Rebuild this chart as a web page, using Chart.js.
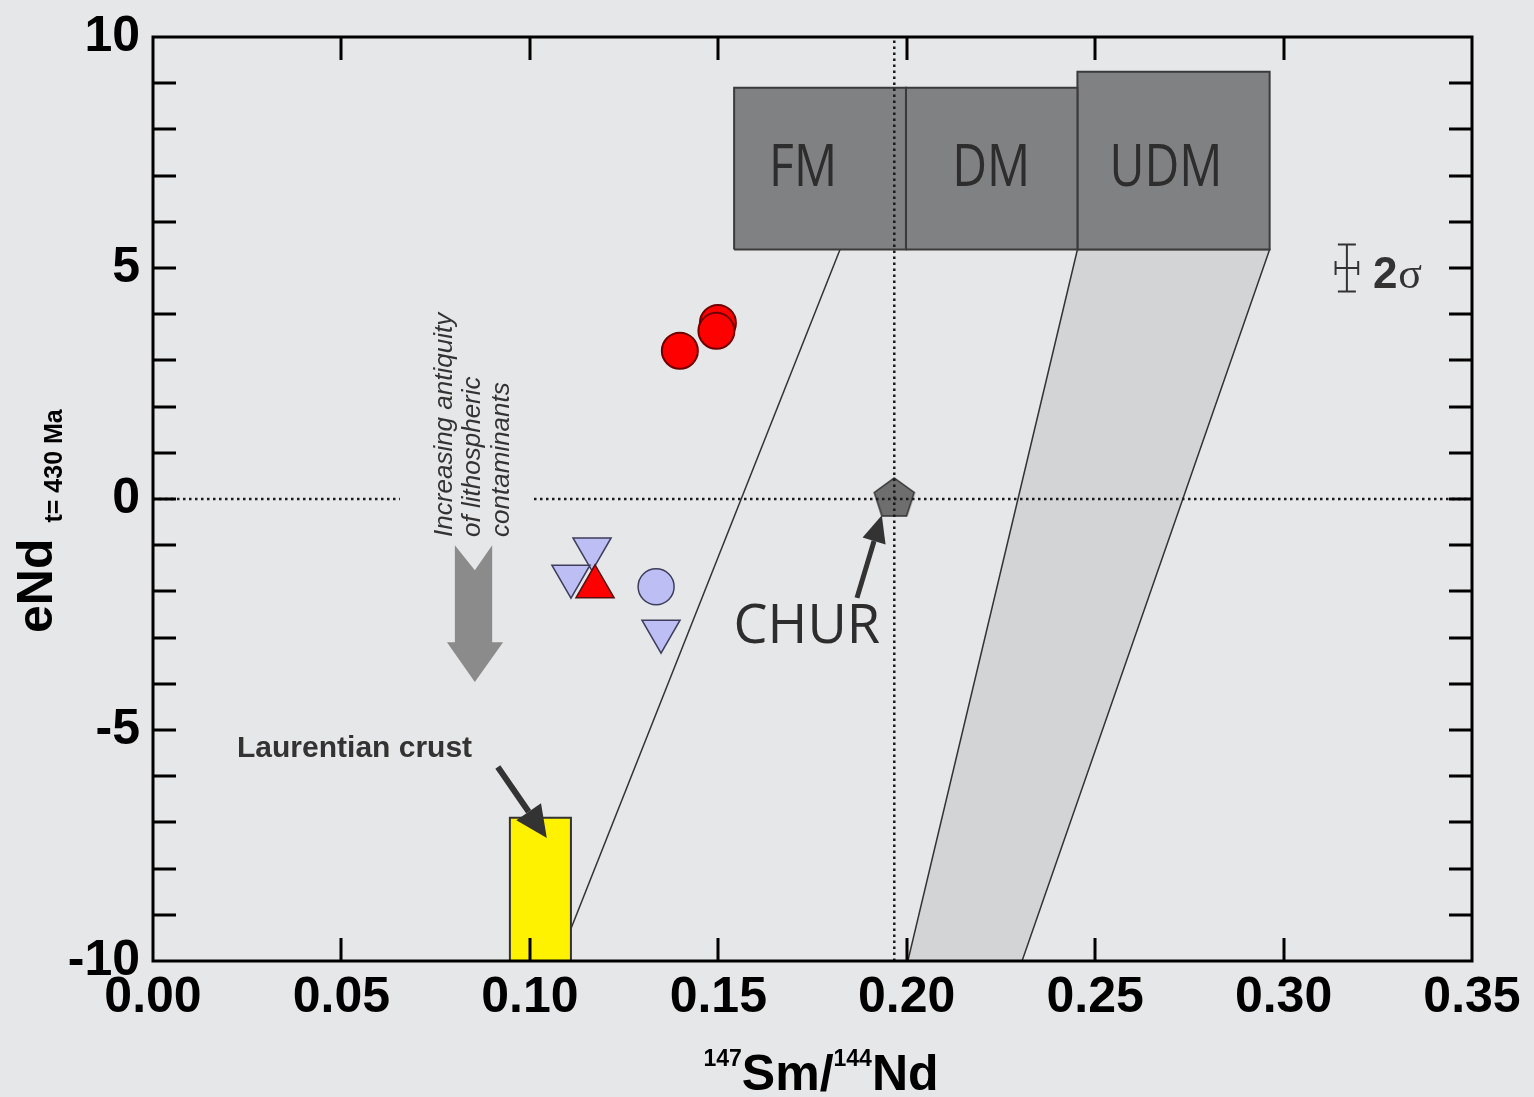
<!DOCTYPE html>
<html>
<head>
<meta charset="utf-8">
<script src="https://cdn.jsdelivr.net/npm/chart.js@4.4.1/dist/chart.umd.min.js"></script>
<style>
  html, body { margin: 0; padding: 0; background: #e6e7e8; }
  canvas { display: block; }
</style>
</head>
<body>
<canvas id="c" width="1534" height="1097"></canvas>
<script>
// ---- axis ticks ----
const xTickLabels = ['0.00', '0.05', '0.10', '0.15', '0.20', '0.25', '0.30', '0.35'];
const yTickLabels = ['-10', '-5', '0', '5', '10'];

// ---- samples: 147Sm/144Nd vs eNd(t = 430 Ma) ----
const redCircleX = [0.1398, 0.1499, 0.1495];
const redCircleY = [3.21, 3.81, 3.64];
const redTriangleX = [0.1173];
const redTriangleY = [-1.90];
const blueTriangleX = [0.1165, 0.1109, 0.1348];
const blueTriangleY = [-1.08, -1.67, -2.86];
const blueCircleX = [0.1335];
const blueCircleY = [-1.90];

// ---- reference reservoirs ----
const churX = [0.1967];
const churY = [0];
const fmBoxX = [0.1542, 0.1998, 0.1998, 0.1542];
const fmBoxY = [5.4, 5.4, 8.9, 8.9];
const dmBoxX = [0.1998, 0.2453, 0.2453, 0.1998];
const dmBoxY = [5.4, 5.4, 8.9, 8.9];
const udmBoxX = [0.2453, 0.2963, 0.2963, 0.2453];
const udmBoxY = [5.4, 5.4, 9.25, 9.25];
const mantleBandX = [0.2453, 0.2963, 0.2306, 0.2003];
const mantleBandY = [5.4, 5.4, -10, -10];
const fmLineX = [0.1823, 0.1075];
const fmLineY = [5.4, -10];
const crustBoxX = [0.0947, 0.1109, 0.1109, 0.0947];
const crustBoxY = [-10, -10, -6.9, -6.9];
const zeroLineLeftX = [0, 0.0655];
const zeroLineRightX = [0.1011, 0.35];
const churLineY = [-10, 10];

const pts = (xs, ys) => xs.map((x, i) => ({ x, y: ys[i] }));

function pentagon(r, fill, stroke) {
  const c = document.createElement('canvas');
  const s = Math.ceil(2 * r + 6);
  c.width = c.height = s;
  const g = c.getContext('2d');
  g.beginPath();
  for (let k = 0; k < 5; k++) {
    const a = -Math.PI / 2 + k * 2 * Math.PI / 5;
    const px = s / 2 + r * Math.cos(a), py = s / 2 + r * Math.sin(a);
    if (k) g.lineTo(px, py); else g.moveTo(px, py);
  }
  g.closePath();
  g.fillStyle = fill; g.fill();
  g.lineWidth = 1.5; g.strokeStyle = stroke; g.stroke();
  return c;
}

const polygon = (xs, ys, fill, stroke, width, order) => ({
  data: pts(xs, ys).concat([{ x: xs[0], y: ys[0] }]),
  showLine: true, fill: 'shape', backgroundColor: fill,
  borderColor: stroke, borderWidth: width, pointRadius: 0, tension: 0, order
});
const segment = (xs, ys, color, width, dash, order) => ({
  data: pts(xs, ys), showLine: true, fill: false,
  borderColor: color, borderWidth: width, borderDash: dash,
  pointRadius: 0, tension: 0, order
});

const FONT = "'Liberation Sans', Arial, sans-serif";
const toX = (chart, v) => chart.scales.x.getPixelForValue(v);
const toY = (chart, v) => chart.scales.y.getPixelForValue(v);

function arrow(ctx, x1, y1, x2, y2, headLen, headHalf, width, color) {
  const ang = Math.atan2(y2 - y1, x2 - x1);
  const bx = x2 - headLen * Math.cos(ang), by = y2 - headLen * Math.sin(ang);
  ctx.strokeStyle = color; ctx.fillStyle = color; ctx.lineWidth = width;
  ctx.beginPath(); ctx.moveTo(x1, y1); ctx.lineTo(bx, by); ctx.stroke();
  ctx.beginPath();
  ctx.moveTo(x2, y2);
  ctx.lineTo(bx + headHalf * Math.sin(ang), by - headHalf * Math.cos(ang));
  ctx.lineTo(bx - headHalf * Math.sin(ang), by + headHalf * Math.cos(ang));
  ctx.closePath(); ctx.fill();
}

// centred label, stretched vertically
function tallText(ctx, text, x, y, sy) {
  ctx.save();
  ctx.translate(x, y);
  ctx.scale(1, sy);
  ctx.fillText(text, 0, 0);
  ctx.restore();
}

const background = {
  id: 'background',
  beforeDraw(chart) {
    const { ctx, width, height } = chart;
    ctx.save(); ctx.fillStyle = '#e6e7e8'; ctx.fillRect(0, 0, width, height); ctx.restore();
  }
};

const overlay = {
  id: 'overlay',
  afterDatasetsDraw(chart) {
    const { ctx, chartArea: a } = chart;
    const X = v => toX(chart, v), Y = v => toY(chart, v);
    ctx.save();

    // frame and inward ticks
    ctx.strokeStyle = '#000'; ctx.lineWidth = 3; ctx.lineCap = 'butt';
    ctx.strokeRect(a.left, a.top, a.right - a.left, a.bottom - a.top);
    const TL = 23;
    ctx.beginPath();
    for (let i = 1; i < xTickLabels.length - 1; i++) {
      const px = Math.round(X(parseFloat(xTickLabels[i])));
      ctx.moveTo(px, a.bottom); ctx.lineTo(px, a.bottom - TL);
      ctx.moveTo(px, a.top); ctx.lineTo(px, a.top + TL);
    }
    for (let v = -9; v <= 9; v++) {
      const py = Math.round(Y(v));
      ctx.moveTo(a.left, py); ctx.lineTo(a.left + TL, py);
      ctx.moveTo(a.right, py); ctx.lineTo(a.right - TL, py);
    }
    ctx.stroke();

    // reservoir labels
    ctx.fillStyle = '#2d2d2d';
    ctx.textAlign = 'center'; ctx.textBaseline = 'middle';
    ctx.font = "48px 'Open Sans', sans-serif";
    tallText(ctx, 'FM', X(0.1725), Y(7.12), 1.2);
    tallText(ctx, 'DM', X(0.2224), Y(7.12), 1.2);
    tallText(ctx, 'UDM', X(0.2688), Y(7.12), 1.2);
    ctx.font = "54px 'Open Sans', sans-serif";
    ctx.fillText('CHUR', X(0.1735), Y(-2.79));

    // Laurentian crust label and pointer
    ctx.textAlign = 'left'; ctx.textBaseline = 'alphabetic';
    ctx.font = 'bold 30px ' + FONT;
    ctx.fillStyle = '#333';
    ctx.fillText('Laurentian crust', X(0.0223), Y(-5.58));
    arrow(ctx, X(0.0915), Y(-5.80), X(0.1045), Y(-7.34), 32, 15, 6, '#333');

    // CHUR pointer
    arrow(ctx, X(0.1868), Y(-2.14), X(0.1934), Y(-0.35), 27, 12, 5, '#333');

    // contamination trend note
    ctx.save();
    ctx.translate(X(0.0793), Y(-0.82));
    ctx.rotate(-Math.PI / 2);
    ctx.font = 'italic 26px ' + FONT;
    ctx.fillStyle = '#333';
    ctx.fillText('Increasing antiquity', 0, 0);
    ctx.fillText('of lithospheric', 0, 28.5);
    ctx.fillText('contaminants', 0, 57);
    ctx.restore();

    // wide trend arrow
    ctx.fillStyle = '#8b8b8b';
    ctx.beginPath();
    ctx.moveTo(X(0.0801), Y(-1.00));
    ctx.lineTo(X(0.0854), Y(-1.54));
    ctx.lineTo(X(0.0900), Y(-1.00));
    ctx.lineTo(X(0.0900), Y(-3.10));
    ctx.lineTo(X(0.0929), Y(-3.10));
    ctx.lineTo(X(0.0854), Y(-3.96));
    ctx.lineTo(X(0.0780), Y(-3.10));
    ctx.lineTo(X(0.0801), Y(-3.10));
    ctx.closePath(); ctx.fill();

    // 2 sigma error cross
    const ex = X(0.3168), ey = Y(5.0);
    const hy = Y(5.0) - Y(5.51), hx = X(0.3198) - X(0.3168);
    ctx.strokeStyle = '#333'; ctx.lineWidth = 2;
    ctx.beginPath();
    ctx.moveTo(ex, ey - hy); ctx.lineTo(ex, ey + hy);
    ctx.moveTo(ex - 9, ey - hy); ctx.lineTo(ex + 9, ey - hy);
    ctx.moveTo(ex - 9, ey + hy); ctx.lineTo(ex + 9, ey + hy);
    ctx.moveTo(ex - hx, ey); ctx.lineTo(ex + hx, ey);
    ctx.moveTo(ex - hx, ey - 7); ctx.lineTo(ex - hx, ey + 7);
    ctx.moveTo(ex + hx, ey - 7); ctx.lineTo(ex + hx, ey + 7);
    ctx.stroke();
    ctx.fillStyle = '#333';
    ctx.font = 'bold 44px ' + FONT;
    ctx.fillText('2', X(0.3237), Y(4.57));
    const w2 = ctx.measureText('2').width;
    ctx.font = "44px 'Liberation Serif', serif";
    ctx.fillText('σ', X(0.3237) + w2 + 1, Y(4.57));

    ctx.restore();
  },
  afterDraw(chart) {
    const { ctx } = chart;
    ctx.save();
    ctx.fillStyle = '#000';
    ctx.textBaseline = 'alphabetic'; ctx.textAlign = 'left';

    // x-axis title: 147Sm/144Nd
    const parts = [['147', 23, -24], ['Sm/', 50, 0], ['144', 23, -24], ['Nd', 50, 0]];
    let total = 0;
    parts.forEach(p => { ctx.font = 'bold ' + p[1] + 'px ' + FONT; total += ctx.measureText(p[0]).width; });
    let cx = 821 - total / 2;
    parts.forEach(p => {
      ctx.font = 'bold ' + p[1] + 'px ' + FONT;
      ctx.fillText(p[0], cx, 1090 + p[2]);
      cx += ctx.measureText(p[0]).width;
    });

    // y-axis title: eNd with t = 430 Ma subscript
    ctx.translate(52, 633);
    ctx.rotate(-Math.PI / 2);
    ctx.font = 'bold 50px ' + FONT;
    ctx.fillText('eNd', 0, 0);
    const w = ctx.measureText('eNd').width;
    ctx.font = 'bold 25px ' + FONT;
    ctx.fillText('t= 430 Ma', w + 16, 10);
    ctx.restore();
  }
};

const tickFont = { family: FONT, size: 50, weight: 'bold' };

new Chart(document.getElementById('c'), {
  type: 'scatter',
  data: {
    datasets: [
      // markers (lowest order is drawn on top)
      { data: pts(redCircleX, redCircleY), pointStyle: 'circle', pointRadius: 18,
        backgroundColor: '#ff0000', borderColor: '#6e0000', borderWidth: 2, order: 1 },
      { data: pts(redTriangleX, redTriangleY), pointStyle: 'triangle', pointRadius: 22,
        backgroundColor: '#ff0000', borderColor: '#5a1010', borderWidth: 1.5, order: 2 },
      { data: pts(blueTriangleX, blueTriangleY), pointStyle: 'triangle', rotation: 180, pointRadius: 22,
        backgroundColor: '#bdbef3', borderColor: '#3e3e5c', borderWidth: 1.5, order: 3 },
      { data: pts(blueCircleX, blueCircleY), pointStyle: 'circle', pointRadius: 18,
        backgroundColor: '#bdbef3', borderColor: '#3e3e5c', borderWidth: 1.5, order: 3 },
      // reference lines
      segment(zeroLineLeftX, [0, 0], '#1a1a1a', 2.5, [2.5, 3.5], 4),
      segment(zeroLineRightX, [0, 0], '#1a1a1a', 2.5, [2.5, 3.5], 4),
      segment([churX[0], churX[0]], churLineY, '#1a1a1a', 2.5, [2.5, 3.5], 4),
      // CHUR
      { data: pts(churX, churY), pointStyle: pentagon(21, '#6e6e6e', '#333'), pointRadius: 21, order: 5 },
      // Laurentian crust
      polygon(crustBoxX, crustBoxY, '#fff200', '#333', 2, 6),
      // mantle reservoirs
      polygon(fmBoxX, fmBoxY, '#808183', '#3b3b3b', 2, 7),
      polygon(dmBoxX, dmBoxY, '#808183', '#3b3b3b', 2, 7),
      polygon(udmBoxX, udmBoxY, '#808183', '#3b3b3b', 2, 7),
      segment(fmLineX, fmLineY, '#333', 1.5, [], 8),
      polygon(mantleBandX, mantleBandY, '#d3d4d6', '#333', 1.5, 9)
    ]
  },
  options: {
    responsive: false,
    animation: false,
    events: [],
    layout: { padding: { left: 0, right: 62, top: 37, bottom: 0 } },
    plugins: { legend: { display: false }, tooltip: { enabled: false } },
    scales: {
      x: {
        type: 'linear', position: 'bottom', min: 0, max: 0.35,
        grid: { display: false, drawTicks: false }, border: { display: false },
        ticks: {
          stepSize: 0.05, padding: 7, color: '#000', font: tickFont,
          maxRotation: 0, autoSkip: false,
          callback: v => xTickLabels[Math.round(v / 0.05)]
        },
        afterFit: s => { s.height = 136; s.paddingLeft = 0; s.paddingRight = 0; }
      },
      y: {
        type: 'linear', position: 'left', min: -10, max: 10,
        grid: { display: false, drawTicks: false }, border: { display: false },
        ticks: {
          stepSize: 5, padding: 13, color: '#000', font: tickFont,
          callback: v => yTickLabels[Math.round((v + 10) / 5)]
        },
        afterFit: s => { s.width = 153; s.paddingTop = 0; s.paddingBottom = 0; }
      }
    }
  },
  plugins: [background, overlay]
});
</script>
</body>
</html>
